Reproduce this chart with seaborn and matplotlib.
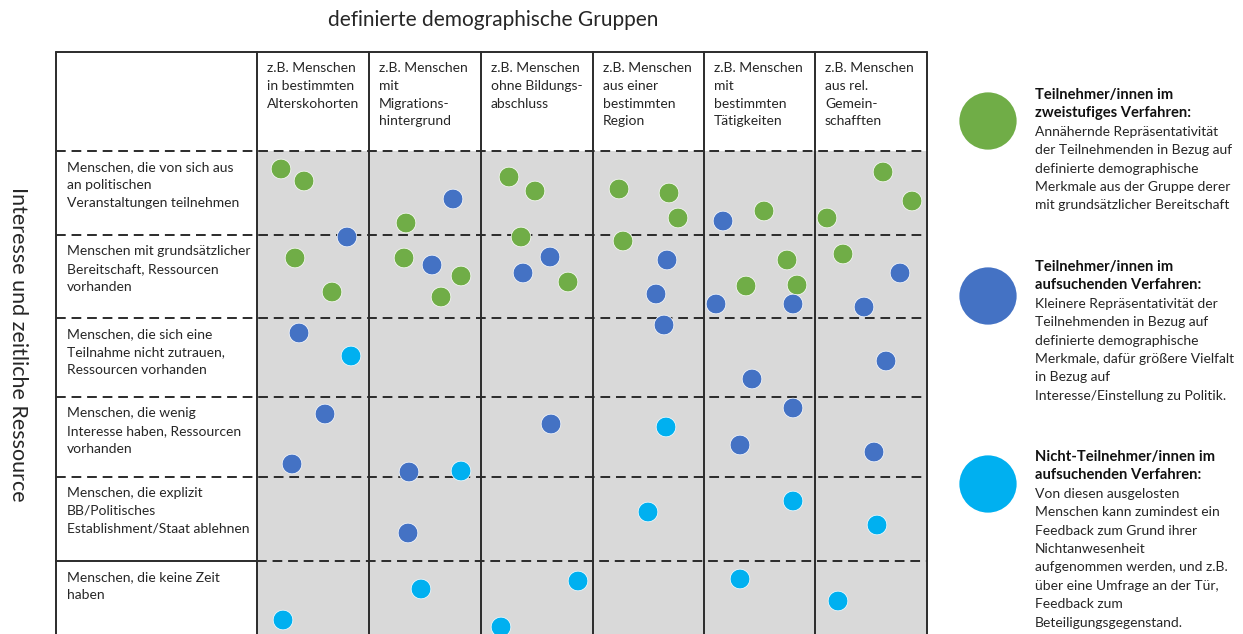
import matplotlib
matplotlib.use("Agg")
import matplotlib.pyplot as plt
import seaborn as sns
import pandas as pd

# --- data: table texts ---
title = "definierte demographische Gruppen"
y_title = "Interesse und zeitliche Ressource"

col_headers = [
    ["z.B. Menschen", "in bestimmten", "Alterskohorten"],
    ["z.B. Menschen", "mit", "Migrations-", "hintergrund"],
    ["z.B. Menschen", "ohne Bildungs-", "abschluss"],
    ["z.B. Menschen", "aus einer", "bestimmten", "Region"],
    ["z.B. Menschen", "mit", "bestimmten", "Tätigkeiten"],
    ["z.B. Menschen", "aus rel.", "Gemein-", "schafften"],
]
row_labels = [
    ["Menschen, die von sich aus", "an politischen", "Veranstaltungen teilnehmen"],
    ["Menschen mit grundsätzlicher", "Bereitschaft, Ressourcen", "vorhanden"],
    ["Menschen, die sich eine", "Teilnahme nicht zutrauen,", "Ressourcen vorhanden"],
    ["Menschen, die wenig", "Interesse haben, Ressourcen", "vorhanden"],
    ["Menschen, die explizit", "BB/Politisches", "Establishment/Staat ablehnen"],
    ["Menschen, die keine Zeit", "haben"],
]

# --- data: dot positions (pixel units) ---
green_x = [281, 304, 406, 295, 332, 404, 461, 441, 509, 535, 521, 568,
           619, 669, 678, 623, 764, 787, 746, 797, 883, 912, 827, 843]
green_y = [169, 181, 223, 258, 292, 258, 276, 297, 177, 191, 237, 282,
           189, 193, 218, 241, 211, 260, 286, 285, 172, 201, 218, 254]
blue_x = [347, 299, 325, 292, 453, 432, 409, 408, 550, 523, 551,
          667, 656, 664, 723, 716, 793, 752, 793, 740, 900, 864, 886, 874]
blue_y = [237, 333, 414, 464, 199, 265, 472, 533, 257, 273, 424,
          260, 294, 325, 221, 304, 304, 379, 408, 445, 273, 307, 361, 452]
cyan_x = [351, 283, 461, 421, 578, 501, 666, 648, 793, 740, 877, 838]
cyan_y = [356, 620, 471, 589, 581, 627, 427, 512, 501, 579, 525, 601]

legend_titles = [
    ["Teilnehmer/innen im", "zweistufiges Verfahren:"],
    ["Teilnehmer/innen im", "aufsuchenden Verfahren:"],
    ["Nicht-Teilnehmer/innen im", "aufsuchenden Verfahren:"],
]
legend_bodies = [
    ["Annähernde Repräsentativität", "der Teilnehmenden in Bezug auf",
     "definierte demographische", "Merkmale aus der Gruppe derer",
     "mit grundsätzlicher Bereitschaft"],
    ["Kleinere Repräsentativität der", "Teilnehmenden in Bezug auf",
     "definierte demographische", "Merkmale, dafür größere Vielfalt",
     "in Bezug auf", "Interesse/Einstellung zu Politik."],
    ["Von diesen ausgelosten", "Menschen kann zumindest ein",
     "Feedback zum Grund ihrer", "Nichtanwesenheit",
     "aufgenommen werden, und z.B.", "über eine Umfrage an der Tür,",
     "Feedback zum", "Beteiligungsgegenstand."],
]

groups = ["zweistufig", "aufsuchend", "nicht"]
colors = {"zweistufig": "#70ad47", "aufsuchend": "#4472c4", "nicht": "#00b0f0"}

dots = pd.concat([
    pd.DataFrame({"x": green_x, "y": green_y, "gruppe": "zweistufig"}),
    pd.DataFrame({"x": blue_x, "y": blue_y, "gruppe": "aufsuchend"}),
    pd.DataFrame({"x": cyan_x, "y": cyan_y, "gruppe": "nicht"}),
], ignore_index=True)

# --- setup ---
sns.set_theme(style="white")
plt.rcParams['font.family'] = ['Lato', 'DejaVu Sans']

W, H = 1243, 634
fig = plt.figure(figsize=(W / 100, H / 100), dpi=100)
ax = fig.add_axes([0, 0, 1, 1])

# table layout
col_edges = [56, 257, 369, 481, 593, 704, 815, 927]
row_edges = [52, 151, 235, 318, 397, 477, 561, H]
line_col = "#2b2b2b"
txt_col = "#262626"
fs = 10
step = 17.8

# grey data area
ax.add_patch(plt.Rectangle((col_edges[1], row_edges[1]), col_edges[-1] - col_edges[1],
                           H - row_edges[1], facecolor="#d9d9d9", edgecolor="none", zorder=0))

# vertical solid lines + top border
for x in col_edges:
    ax.plot([x, x], [row_edges[0], H], color=line_col, lw=1.4, zorder=1)
ax.plot([col_edges[0], col_edges[-1]], [row_edges[0]] * 2, color=line_col, lw=1.4, zorder=1)

# horizontal dashed lines (last one solid in the label column)
for y in row_edges[1:-2]:
    ax.plot([col_edges[0], col_edges[-1]], [y, y], color=line_col, lw=1.4,
            ls=(0, (5, 3)), zorder=1)
ax.plot([col_edges[0], col_edges[1]], [row_edges[-2]] * 2, color=line_col, lw=1.4, zorder=1)
ax.plot([col_edges[1], col_edges[-1]], [row_edges[-2]] * 2, color=line_col, lw=1.4,
        ls=(0, (5, 3)), zorder=1)

# header texts
for i, lines in enumerate(col_headers):
    for j, line in enumerate(lines):
        ax.text(col_edges[i + 1] + 10, 68 + j * step, line, fontsize=fs,
                va="center", ha="left", color=txt_col)

# row label texts
for i, lines in enumerate(row_labels):
    for j, line in enumerate(lines):
        ax.text(67, row_edges[i + 1] + 16 + j * step, line, fontsize=fs,
                va="center", ha="left", color=txt_col)

# dots
sns.scatterplot(data=dots, x="x", y="y", hue="gruppe", hue_order=groups,
                palette=colors, s=200, edgecolor="white", linewidth=0.5,
                legend=False, ax=ax, zorder=3)
ax.set_xlim(0, W)
ax.set_ylim(H, 0)
ax.axis("off")

# titles
ax.text(493, 20, title, fontsize=15, ha="center", va="center", color=txt_col)
ax.text(18, 344, y_title, fontsize=15.5, ha="center", va="center", rotation=-90,
        color=txt_col)

# legend
leg_y = [95, 267, 457]
leg_dot_y = [121, 296, 484]
for k, g in enumerate(groups):
    ax.scatter([988], [leg_dot_y[k]], s=1700, color=colors[g], edgecolor="none", zorder=3)
    y = leg_y[k]
    for line in legend_titles[k]:
        ax.text(1035, y, line, fontsize=10.6, fontweight="bold", va="center", ha="left",
                color="#111111")
        y += 18.4
    for line in legend_bodies[k]:
        ax.text(1035, y, line, fontsize=fs, va="center", ha="left", color=txt_col)
        y += 18.4

fig.savefig("out.png", dpi=100)
